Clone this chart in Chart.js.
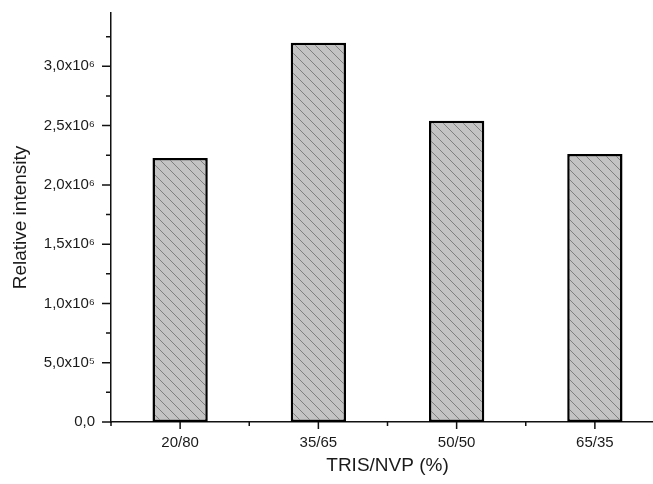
<!DOCTYPE html>
<html>
<head>
<meta charset="utf-8">
<script src="https://cdn.jsdelivr.net/npm/chart.js@4/dist/chart.umd.min.js"></script>
<style>
  html, body { margin: 0; padding: 0; background: #fff; overflow: hidden; width: 653px; height: 484px; }
  #grafica { display: block; }
</style>
</head>
<body>
<canvas id="grafica" width="680" height="484"></canvas>
<script>
// datos
const categorias = ["20/80", "35/65", "50/50", "65/35"]
const intensidad = [2227000, 3198000, 2542000, 2261000]
const yTicks = [0, 250000, 500000, 750000, 1000000, 1250000, 1500000, 1750000, 2000000, 2250000, 2500000, 2750000, 3000000, 3250000]
const yEtiquetas = ["0,0", "", "5,0x10⁵", "", "1,0x10⁶", "", "1,5x10⁶", "", "2,0x10⁶", "", "2,5x10⁶", "", "3,0x10⁶", ""]

const fuente = "'Liberation Sans', Arial, sans-serif"

// patron rayado de las barras
function rayado() {
    const c = document.createElement("canvas")
    c.width = 10
    c.height = 10
    const g = c.getContext("2d")
    g.fillStyle = "#c3c3c3"
    g.fillRect(0, 0, 10, 10)
    g.strokeStyle = "#777"
    g.lineWidth = 0.9
    g.beginPath()
    g.moveTo(-2, -2); g.lineTo(12, 12)
    g.moveTo(-2, 8); g.lineTo(2, 12)
    g.moveTo(8, -2); g.lineTo(12, 2)
    g.stroke()
    return g.createPattern(c, "repeat")
}

// marcas de los ejes (mayores y menores)
const marcas = {
    id: "marcas",
    afterDraw(chart) {
        const ctx = chart.ctx
        const x = chart.scales.x
        const y = chart.scales.y
        const area = chart.chartArea
        ctx.save()
        ctx.strokeStyle = "#111"
        ctx.lineWidth = 1.5
        ctx.beginPath()
        yTicks.forEach((v, i) => {
            const py = y.getPixelForValue(v)
            const largo = yEtiquetas[i] ? 9 : 5
            ctx.moveTo(area.left - largo, py)
            ctx.lineTo(area.left, py)
        })
        categorias.forEach((c, i) => {
            const px = x.getPixelForValue(i)
            ctx.moveTo(px, area.bottom)
            ctx.lineTo(px, area.bottom + 7)
        })
        for (let i = 0; i <= categorias.length; i++) {
            const px = x.getPixelForValue(i - 0.5)
            ctx.moveTo(px, area.bottom)
            ctx.lineTo(px, area.bottom + 4)
        }
        ctx.stroke()
        ctx.restore()
    }
}

const grafDOM = document.querySelector("#grafica")
const config = {
    type: "bar",
    data: {
        labels: categorias,
        datasets: [
            {
                label: "Relative intensity",
                data: intensidad,
                backgroundColor: rayado(),
                borderColor: "#000",
                borderWidth: 2.5,
                borderSkipped: false,
                barPercentage: 0.4,
                categoryPercentage: 1
            }
        ]
    },
    options: {
        responsive: false,
        animation: false,
        layout: { padding: { top: 13, right: 16, left: 0, bottom: 0 } },
        plugins: {
            legend: { display: false },
            tooltip: { enabled: false }
        },
        scales: {
            x: {
                grid: { display: false, drawTicks: false },
                border: { display: true, color: "#111", width: 1.5 },
                ticks: { color: "#1a1a1a", font: { family: fuente, size: 15 }, padding: 12 },
                title: { display: true, text: "TRIS/NVP (%)", color: "#1a1a1a", font: { family: fuente, size: 19 }, padding: { top: 0, bottom: 7 } },
                afterFit(scale) { scale.height = 62 }
            },
            y: {
                min: 0,
                max: 3450000,
                afterBuildTicks(scale) {
                    scale.ticks = yTicks.map(v => ({ value: v }))
                },
                grid: { display: false, drawTicks: false },
                border: { display: true, color: "#111", width: 1.5 },
                ticks: {
                    color: "#1a1a1a",
                    font: { family: fuente, size: 15 },
                    padding: 16,
                    autoSkip: false,
                    callback: (v, i) => yEtiquetas[i]
                },
                title: { display: true, text: "Relative intensity", color: "#1a1a1a", font: { family: fuente, size: 19 }, padding: { top: 9, bottom: 0 } },
                afterFit(scale) {
                    scale.width = 111
                    scale.paddingTop = 0
                    scale.paddingBottom = 0
                }
            }
        }
    },
    plugins: [marcas]
}
let miGraf = new Chart(grafDOM, config)
</script>
</body>
</html>
